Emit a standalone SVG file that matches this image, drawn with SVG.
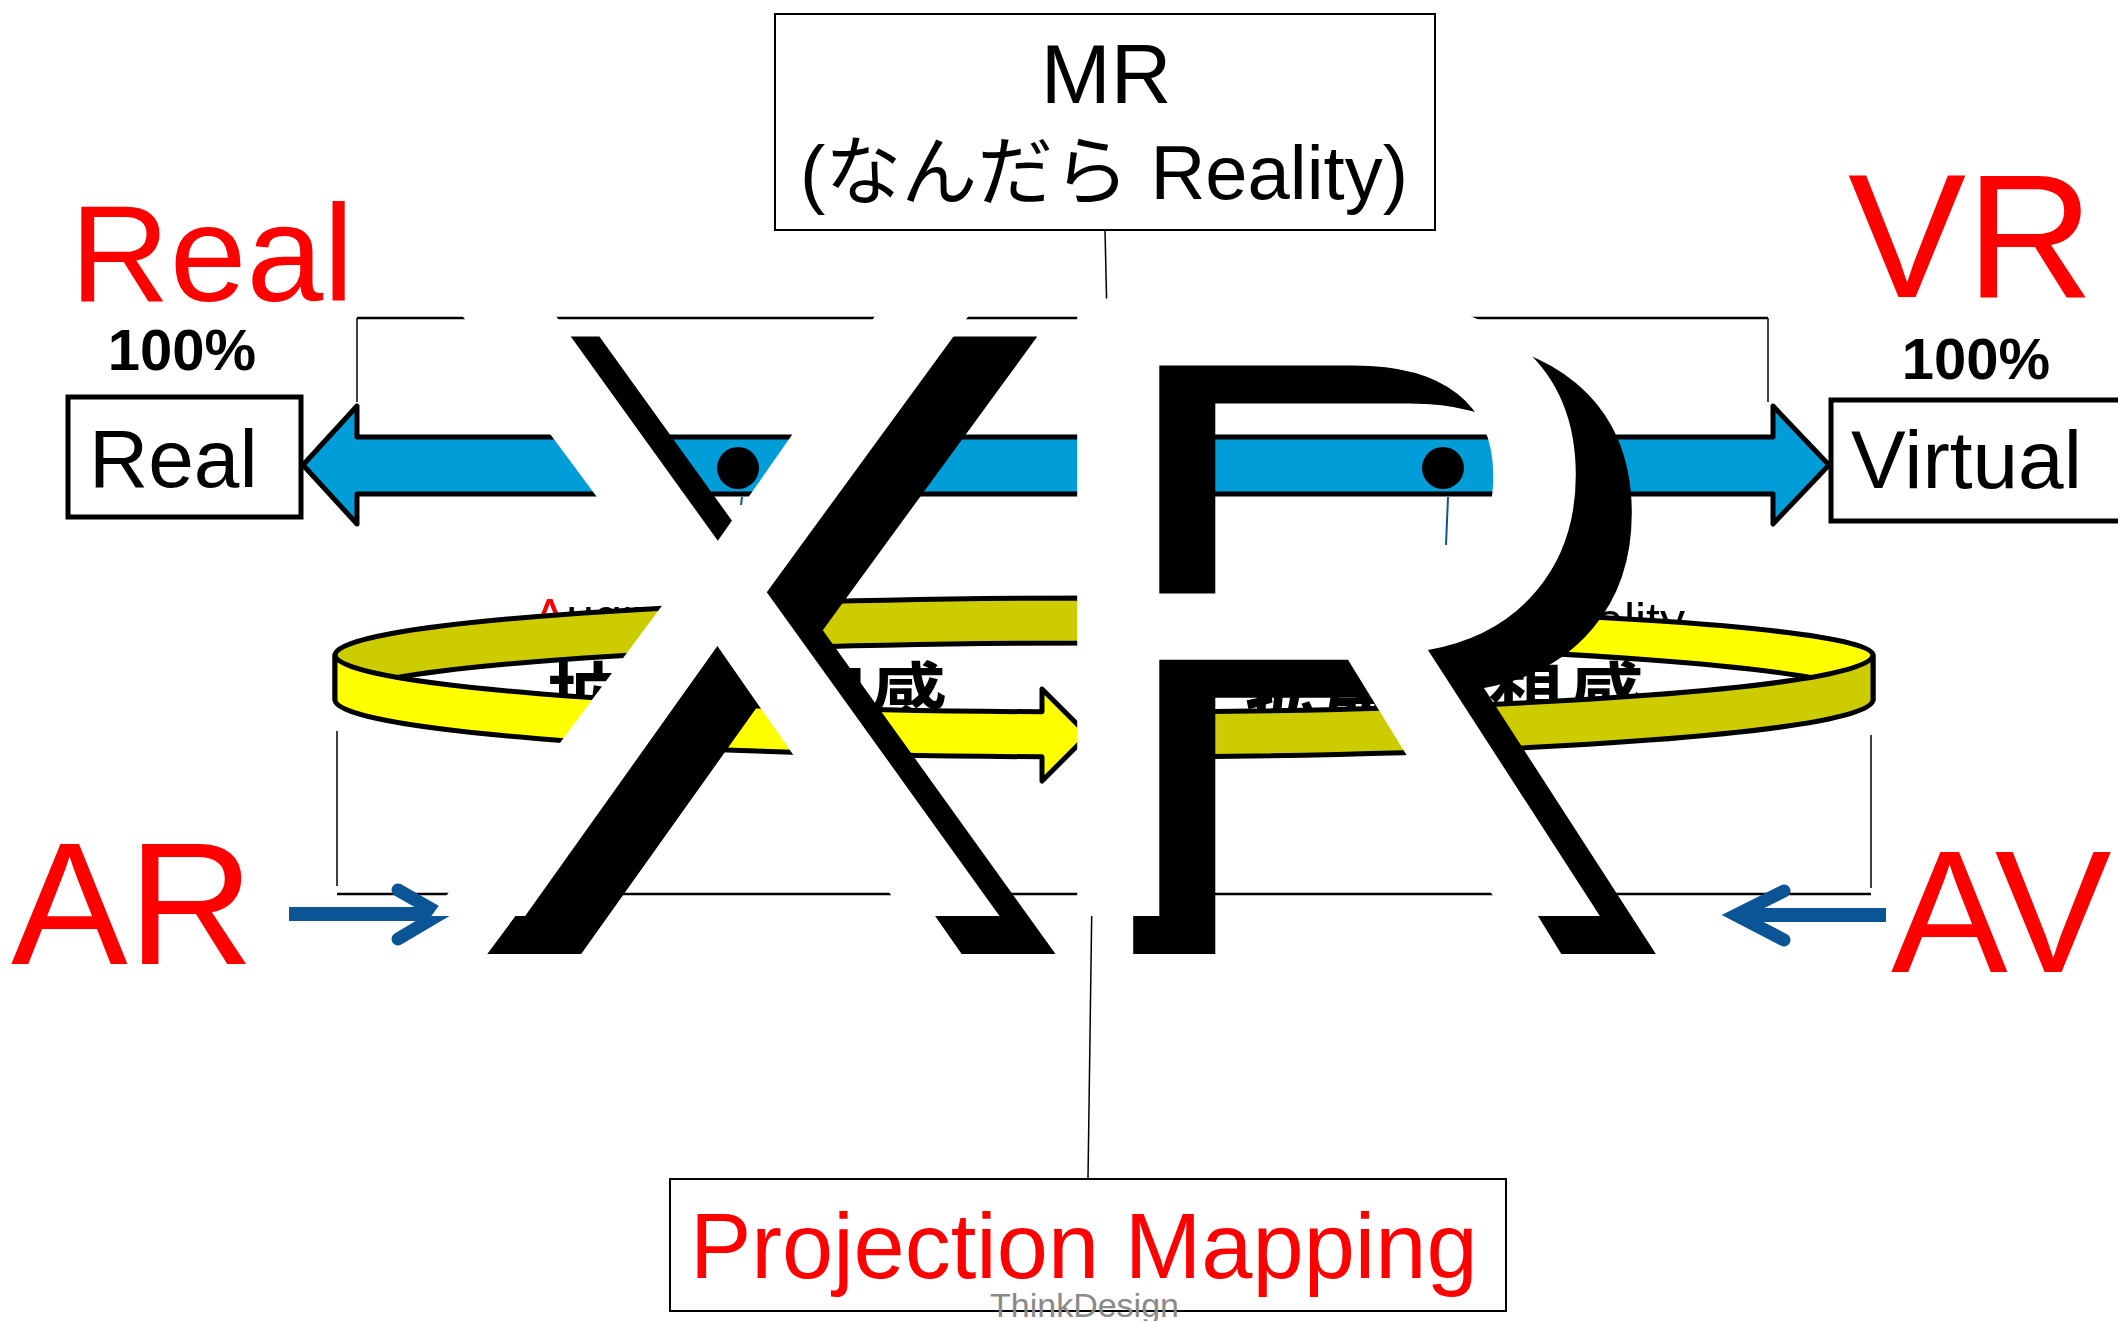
<svg xmlns="http://www.w3.org/2000/svg" width="2118" height="1321" viewBox="0 0 2118 1321">
<style>
.sans{font-family:"Liberation Sans",Arial,"Noto Sans CJK JP",sans-serif}
.cjk{font-family:"Noto Sans CJK JP","Noto Sans CJK SC",sans-serif;font-weight:700}
.red{fill:#FF0000}
.blk{fill:#000000}
.box{fill:#fff;stroke:#000;stroke-width:5}
.ring{stroke:#000;stroke-width:5;stroke-linejoin:round}
.olive{fill:#CCCC00}
.yel{fill:#FFFF00}
.dblue{stroke:#0B5596;fill:none;stroke-linecap:round}
.big{font-family:"Liberation Sans",Arial,sans-serif;font-size:863px}
</style>
<rect width="2118" height="1321" fill="#fff"/>

<g id="connectors">
  <line x1="1105" y1="230" x2="1107" y2="318" stroke="#000" stroke-width="1.5"/>
  <line x1="357" y1="318" x2="1768" y2="318" stroke="#000" stroke-width="2.5"/>
  <line x1="357" y1="318" x2="357" y2="402" stroke="#000" stroke-width="1.5"/>
  <line x1="1768" y1="318" x2="1768" y2="402" stroke="#000" stroke-width="1.5"/>
  <line x1="337" y1="731" x2="337" y2="886" stroke="#000" stroke-width="1.5"/>
  <line x1="337" y1="894" x2="1871" y2="894" stroke="#000" stroke-width="2.5"/>
  <line x1="1871" y1="735" x2="1871" y2="888" stroke="#000" stroke-width="1.5"/>
  <line x1="1092" y1="894" x2="1088" y2="1179" stroke="#000" stroke-width="1.5"/>
  <line x1="742" y1="497" x2="741" y2="505" stroke="#0B5596" stroke-width="2"/>
  <line x1="1448" y1="497" x2="1446" y2="545" stroke="#0B5596" stroke-width="2"/>
  <g id="ar-arrow">
    <line x1="289" y1="914" x2="436" y2="914" stroke="#0B5596" stroke-width="14"/>
    <polyline class="dblue" points="398,890 440,914 398,939" stroke-width="13"/>
  </g>
  <g id="av-arrow">
    <line x1="1886" y1="915" x2="1738" y2="915" stroke="#0B5596" stroke-width="14"/>
    <polyline class="dblue" points="1784,891 1736,915 1784,940" stroke-width="13"/>
  </g>
</g>

<g id="mr">
  <rect x="775" y="14" width="660" height="216" fill="#fff" stroke="#000" stroke-width="2"/>
  <text class="sans blk" x="1106" y="103" font-size="84" text-anchor="middle">MR</text>
  <text class="sans blk" x="1104" y="199" font-size="76" text-anchor="middle">(なんだら Reality)</text>
</g>

<g id="real-label">
  <text class="sans red" x="70" y="301" font-size="138">Real</text>
  <text class="sans blk" x="182" y="370" font-size="58" font-weight="700" text-anchor="middle">100%</text>
</g>
<g id="real-box">
  <rect class="box" x="68" y="397" width="233" height="120"/>
  <text class="sans blk" x="89" y="487" font-size="82">Real</text>
</g>

<g id="vr-label">
  <text class="sans red" x="1848" y="297" font-size="177">VR</text>
  <text class="sans blk" x="1976" y="379" font-size="58" font-weight="700" text-anchor="middle">100%</text>
</g>
<g id="virtual-box">
  <rect class="box" x="1831" y="400" width="300" height="121"/>
  <text class="sans blk" x="1851" y="488" font-size="82">Virtual</text>
</g>

<g id="ar-label"><text class="sans red" x="11" y="964" font-size="175">AR</text></g>
<g id="av-label"><text class="sans red" x="1891" y="972" font-size="175">AV</text></g>

<g id="projection">
  <rect x="670" y="1179" width="836" height="132" fill="#fff" stroke="#000" stroke-width="2"/>
  <text class="sans red" x="690" y="1278" font-size="92">Projection Mapping</text>
</g>
<text class="sans" x="990" y="1317" font-size="34" fill="#8a8a8a">ThinkDesign</text>

<g id="ring">
  <text class="sans blk" x="533" y="634" font-size="50"><tspan class="red">A</tspan>ugmented <tspan class="red">R</tspan>eality</text>
  <text class="sans blk" x="1685" y="638" font-size="50" text-anchor="end"><tspan class="red">A</tspan>ugmented <tspan class="red">V</tspan>irtuality</text>
  <text class="cjk blk" x="547" y="726" font-size="76" letter-spacing="5">拡張現実感</text>
  <text class="cjk blk" x="1245" y="726" font-size="76" letter-spacing="5">拡張仮想感</text>
  <path class="ring olive" d="M335,655 A769,57 0 0 1 1104,598 L1104,643 A769,57 0 0 0 335,700 Z"/>
  <path class="ring yel" d="M1104,606 A769,49 0 0 1 1873,655 L1873,700 A769,57 0 0 0 1104,643 Z"/>
  <path class="ring yel" d="M335,655 A769,57 0 0 0 1042,711.8 L1042,689 L1088,735 L1042,781 L1042,756.8 A769,57 0 0 1 335,700 Z"/>
  <path class="ring olive" d="M1873,655 A769,57 0 0 1 1110,711.9 L1110,756.9 A769,57 0 0 0 1873,700 Z"/>
</g>

<g id="real-virtual-arrow">
  <polygon points="303,465 357,406 357,437 1773,437 1773,406 1829,465 1773,524 1773,494 357,494 357,524" fill="#009DD9" stroke="#000" stroke-width="5" stroke-linejoin="round"/>
  <circle cx="738" cy="468" r="21" fill="#000"/>
  <circle cx="1443" cy="468" r="21" fill="#000"/>
</g>

<g id="xr">
  <text class="big" transform="translate(466.8 954) scale(1.056 1.04)" fill="#000">X</text>
  <text class="big" transform="translate(1061 954) scale(1.02 1.04)" fill="#000">R</text>
  <text class="big" transform="translate(410.8 916) scale(1.056 1.04)" fill="#fff">X</text>
  <text class="big" transform="translate(1005 916) scale(1.02 1.04)" fill="#fff">R</text>
</g>
</svg>
